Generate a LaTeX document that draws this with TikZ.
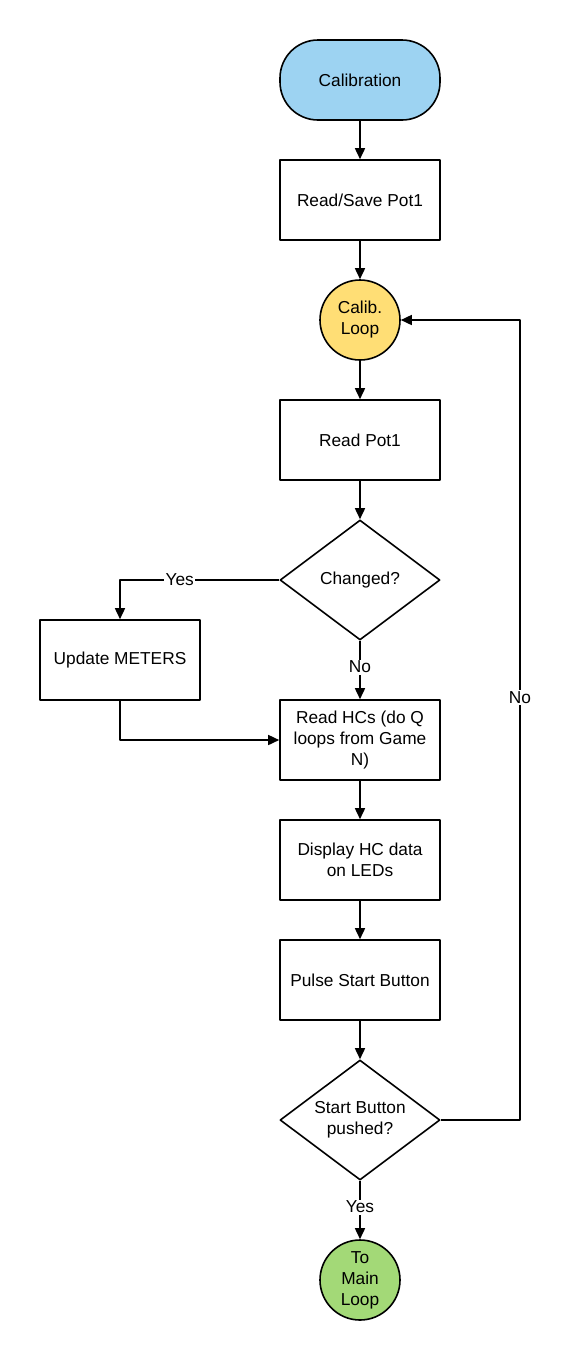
\documentclass[tikz,border=0pt]{standalone}
\usepackage{fontspec}
\setmainfont{Liberation Sans}
\usetikzlibrary{shapes.geometric,arrows.meta}
\definecolor{calblue}{HTML}{9DD3F2}
\definecolor{loopyellow}{HTML}{FFDE75}
\definecolor{maingreen}{HTML}{A3D977}
\tikzset{
	box/.style={draw, line width=1.6pt, rectangle, minimum width=160pt, minimum height=80pt, align=center, inner sep=2pt},
	term/.style={box, rounded corners=38pt, fill=calblue},
	conn/.style={draw, line width=1.6pt, circle, minimum size=80pt, inner sep=0pt, align=center},
	decide/.style={draw, line width=1.6pt, diamond, aspect=1.333, minimum width=160pt, minimum height=120pt, inner sep=0pt, align=center},
	lab/.style={fill=white, inner sep=1.5pt},
}
\begin{document}
\begin{tikzpicture}[x=1pt, y=-1pt, >={Triangle[length=11pt,width=10pt]}, line join=round, font=\fontsize{17.3}{21}\selectfont]
			\useasboundingbox (0,0) rectangle (571,1360);
			\def\xmid{360}
			\node [term] (cal) at (\xmid,80) {Calibration};
			\node [box] (save) at (\xmid,200) {Read/Save Pot1};
			\node [conn, fill=loopyellow] (loop) at (\xmid,320) {Calib.\\Loop};
			\node [box] (pot) at (\xmid,440) {Read Pot1};
			\node [decide] (chg) at (\xmid,580) {Changed?};
			\node [box] (upd) at (120,660) {Update METERS};
			\node [box] (hcs) at (\xmid,740) {Read HCs (do Q\\loops from Game\\N)};
			\node [box] (leds) at (\xmid,860) {Display HC data\\on LEDs};
			\node [box] (pulse) at (\xmid,980) {Pulse Start Button};
			\node [decide] (push) at (\xmid,1120) {Start Button\\pushed?};
			\node [conn, fill=maingreen] (main) at (\xmid,1280) {To\\Main\\Loop};
			\coordinate (back) at (520,320);
			\draw [->, line width=1.6pt] (cal) -- (save);
			\draw [->, line width=1.6pt] (save) -- (loop);
			\draw [->, line width=1.6pt] (loop) -- (pot);
			\draw [->, line width=1.6pt] (pot) -- (chg);
			\draw [->, line width=1.6pt] (chg.west) -| node [lab, pos=0.3125] {Yes} (upd.north);
			\draw [->, line width=1.6pt] (chg.south) -- node [lab, pos=0.45] {No} (hcs.north);
			\draw [->, line width=1.6pt] (upd.south) |- (hcs.west);
			\draw [->, line width=1.6pt] (hcs) -- (leds);
			\draw [->, line width=1.6pt] (leds) -- (pulse);
			\draw [->, line width=1.6pt] (pulse) -- (push);
			\draw [->, line width=1.6pt] (push.south) -- node [lab, pos=0.45] {Yes} (main.north);
			\draw [->, line width=1.6pt] (push.east) -| node [lab, pos=0.764] {No} (back) -- (loop.east);
		\end{tikzpicture}
\end{document}
